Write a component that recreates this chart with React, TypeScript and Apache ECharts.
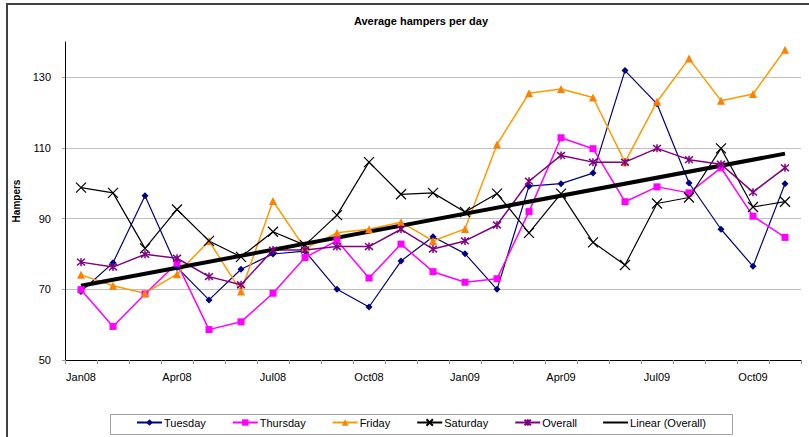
import React, { useEffect, useRef } from "react";
import * as echarts from "echarts";

const months = [
  "Jan08", "Feb08", "Mar08", "Apr08", "May08", "Jun08", "Jul08", "Aug08", "Sep08", "Oct08", "Nov08", "Dec08",
  "Jan09", "Feb09", "Mar09", "Apr09", "May09", "Jun09", "Jul09", "Aug09", "Sep09", "Oct09", "Nov09",
];

const tuesday = [69.4, 77.5, 96.5, 76.2, 67.0, 75.7, 80.0, 80.8, 70.0, 65.0, 78.0, 84.9, 80.1, 70.0, 99.2, 99.9, 102.9, 131.9, 122.5, 100.1, 87.0, 76.5, 99.9];
const thursday = [69.9, 59.5, 68.7, 77.4, 58.6, 60.8, 68.9, 79.0, 83.8, 73.2, 82.8, 75.0, 72.0, 73.0, 92.0, 112.9, 109.8, 94.8, 99.0, 97.3, 104.4, 90.7, 84.7];
const friday = [74.1, 71.0, 68.9, 74.3, 83.7, 69.4, 95.0, 81.6, 86.0, 87.0, 89.0, 83.7, 87.1, 111.0, 125.5, 126.7, 124.3, 106.0, 123.1, 135.3, 123.4, 125.3, 137.8];
const saturday = [98.8, 97.3, 81.6, 92.6, 83.7, 79.2, 86.3, 82.5, 91.0, 106.0, 96.9, 97.3, 91.9, 97.1, 86.0, 97.1, 83.3, 76.9, 94.3, 96.0, 109.9, 93.3, 94.8];
const overall = [77.7, 76.3, 79.9, 78.8, 73.6, 71.3, 81.1, 81.1, 82.1, 82.1, 87.0, 81.4, 83.7, 88.2, 100.6, 107.9, 106.0, 106.0, 109.9, 106.7, 105.4, 97.5, 104.4];
// Linear trend of Overall: values at first and last month
const trendStart = 71.0;
const trendEnd = 108.4;

const yTicks = { min: 50, max: 140, interval: 20 };

const FONT = "Liberation Sans, Arial, sans-serif";

export default function App() {
  const ref = useRef<HTMLDivElement>(null);

  useEffect(() => {
    if (!ref.current) return;
    const chart = echarts.init(ref.current, undefined, { renderer: "svg" });

    const trend = months.map((_, i) => (i === 0 ? trendStart : i === months.length - 1 ? trendEnd : null));

    const xPath = "path://M0,0L10,10M10,0L0,10";
    const starPath = "path://M0,0L10,10M10,0L0,10M5,-1L5,11";

    chart.setOption({
      animation: false,
      backgroundColor: "#ffffff",
      textStyle: { fontFamily: FONT },
      title: {
        text: "Average hampers per day",
        left: 416,
        textAlign: "center",
        top: 10,
        textStyle: { fontFamily: FONT, fontSize: 11, fontWeight: "bold", color: "#000" },
      },
      graphic: [
        {
          type: "rect",
          shape: { x: 7, y: 4, width: 900, height: 500 },
          style: { fill: "none", stroke: "#404040", lineWidth: 2 },
          silent: true,
        },
        {
          type: "rect",
          shape: { x: 110.5, y: 414.5, width: 622, height: 20 },
          style: { fill: "none", stroke: "#a0a0a0", lineWidth: 1 },
          silent: true,
        },
      ],
      legend: {
        left: 136,
        top: 417,
        padding: 0,
        itemGap: 26,
        itemWidth: 25,
        itemHeight: 8,
        textStyle: { fontFamily: FONT, fontSize: 11, color: "#000", padding: [0, 0, 0, -3] },
        data: [
          { name: "Tuesday" },
          { name: "Thursday" },
          { name: "Friday" },
          { name: "Saturday" },
          { name: "Overall" },
          { name: "Linear (Overall)", icon: "path://M0,4L25,4L25,6L0,6Z", itemStyle: { color: "#000" } },
        ],
      },
      grid: { left: 65, right: 8, top: 42, bottom: 77, containLabel: false },
      xAxis: {
        type: "category",
        data: months,
        boundaryGap: true,
        axisLine: { lineStyle: { color: "#000", width: 1 } },
        axisTick: { show: true, interval: 0, length: 4, lineStyle: { color: "#909090" } },
        axisLabel: { interval: 2, margin: 11, fontSize: 11, color: "#000", fontFamily: FONT },
        splitLine: { show: false },
      },
      yAxis: {
        type: "value",
        min: yTicks.min,
        max: yTicks.max,
        interval: yTicks.interval,
        name: "Hampers",
        nameLocation: "middle",
        nameRotate: 90,
        nameGap: 44,
        nameTextStyle: { fontFamily: FONT, fontSize: 10, fontWeight: "bold", color: "#000" },
        axisLine: { show: true, lineStyle: { color: "#000", width: 1 } },
        axisTick: { show: true, length: 3, lineStyle: { color: "#a0a0a0" } },
        axisLabel: { margin: 14, fontSize: 11, color: "#000", fontFamily: FONT, showMaxLabel: false },
        splitLine: { show: true, showMaxLine: false, lineStyle: { color: "#c0c0c0", width: 1 } },
      },
      series: [
        {
          name: "Tuesday",
          type: "line",
          data: tuesday,
          symbol: "diamond",
          symbolSize: 7,
          lineStyle: { color: "#000080", width: 1.2 },
          itemStyle: { color: "#000080" },
        },
        {
          name: "Thursday",
          type: "line",
          data: thursday,
          symbol: "rect",
          symbolSize: 7,
          lineStyle: { color: "#FF00FF", width: 1.5 },
          itemStyle: { color: "#FF00FF" },
        },
        {
          name: "Friday",
          type: "line",
          data: friday,
          symbol: "triangle",
          symbolSize: 8,
          lineStyle: { color: "#FF9900", width: 1.5 },
          itemStyle: { color: "#FF8000" },
        },
        {
          name: "Saturday",
          type: "line",
          data: saturday,
          symbol: xPath,
          symbolSize: 10,
          lineStyle: { color: "#000000", width: 1.2 },
          itemStyle: { color: "#000000", borderColor: "#000000", borderWidth: 1.2 },
        },
        {
          name: "Overall",
          type: "line",
          data: overall,
          symbol: starPath,
          symbolSize: 8,
          lineStyle: { color: "#800080", width: 1.5 },
          itemStyle: { color: "#800080", borderColor: "#800080", borderWidth: 1.5 },
        },
        {
          name: "Linear (Overall)",
          type: "line",
          data: trend,
          connectNulls: true,
          showSymbol: false,
          symbol: "none",
          lineStyle: { color: "#000000", width: 4 },
          itemStyle: { color: "#000000" },
        },
      ],
    });

    return () => chart.dispose();
  }, []);

  return (
    <div
      ref={ref}
      style={{ position: "absolute", left: 0, top: 0, width: 809, height: 437 }}
    />
  );
}
